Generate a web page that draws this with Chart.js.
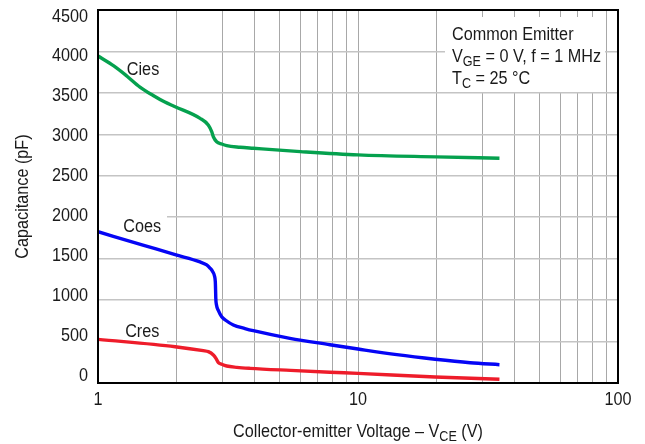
<!DOCTYPE html>
<html>
<head>
<meta charset="utf-8">
<script src="https://cdn.jsdelivr.net/npm/chart.js@4/dist/chart.umd.min.js"></script>
<style>
html,body{margin:0;padding:0;background:#fff;}
#c{display:block;}
</style>
</head>
<body>
<canvas id="c" width="645" height="444"></canvas>
<script>
// ---- data ----
const ciesV = [1, 1.15, 1.29, 1.45, 1.63, 1.8, 1.98, 2.47, 2.655, 2.737, 2.777, 2.86, 2.99, 3.125, 3.52, 3.96, 6, 10, 20, 35];
const ciesC = [3945, 3825, 3704, 3570, 3468, 3392, 3333, 3193, 3113, 3032, 2971, 2911, 2883, 2863, 2844, 2832, 2792, 2752, 2728, 2712];

const coesV = [1, 1.5, 1.98, 2.468, 2.619, 2.696, 2.762, 2.806, 2.826, 2.833, 2.838, 2.856, 2.902, 2.99, 3.107, 3.315, 3.676, 3.957, 5.47, 7.8, 10, 14.1, 19.8, 27, 35];
const coesC = [1825, 1661, 1548, 1461, 1424, 1387, 1343, 1291, 1222, 1122, 1025, 941, 875, 800, 754, 700, 657, 631, 539, 462, 410, 342, 287, 245, 221];

const cresV = [1, 1.98, 2.54, 2.657, 2.778, 2.842, 2.904, 2.99, 3.125, 3.42, 3.84, 5.5, 7.8, 10, 19.8, 35];
const cresC = [527, 438, 390, 378, 338, 298, 245, 226, 205, 189, 177, 152, 130, 116, 73, 45];

const xGridValues = [1,2,3,4,5,6,7,8,9,10,20,30,40,50,60,70,80,90,100];
const xTickLabels = [1, 10, 100];
const yTickValues = [0,500,1000,1500,2000,2500,3000,3500,4000,4500];

const seriesNames = ['Cies', 'Coes', 'Cres'];
const xTitleRuns = [{t:'Collector-emitter Voltage – V'},{t:'CE',sub:true},{t:' (V)'}];
const yTitle = 'Capacitance (pF)';
const noteLines = [
  [{t:'Common Emitter'}],
  [{t:'V'},{t:'GE',sub:true},{t:' = 0 V, f = 1 MHz'}],
  [{t:'T'},{t:'C',sub:true},{t:' = 25 °C'}]
];

// label anchor positions in data units
const seriesLabelPos = [[1.49, 3790], [1.48, 1894], [1.48, 627]];

const FONT = '"Liberation Sans", Arial, sans-serif';
const SX = 0.9; // horizontal condensing of the text face
const TXT = '#1a1a1a';
const toPts = (xs, ys) => xs.map((x,i)=>({x:x, y:ys[i]}));

function ctext(ctx, t, x, y, size, align){
  ctx.save();
  ctx.font = size+'px '+FONT;
  ctx.textBaseline = 'alphabetic';
  ctx.textAlign = 'left';
  const w = ctx.measureText(t).width*SX;
  let x0 = x;
  if(align==='center') x0 = x - w/2;
  else if(align==='right') x0 = x - w;
  ctx.translate(x0, y);
  ctx.scale(SX, 1);
  ctx.fillText(t, 0, 0);
  ctx.restore();
  return w;
}
function runsWidth(ctx, runs, size){
  let w=0;
  for(const r of runs){
    ctx.font = (r.sub? Math.round(size*0.78): size)+'px '+FONT;
    w += ctx.measureText(r.t).width*SX;
  }
  return w;
}
function drawRuns(ctx, runs, x, y, size){
  let cx=x;
  for(const r of runs){
    const s = r.sub? Math.round(size*0.78): size;
    cx += ctext(ctx, r.t, cx, r.sub? y+4 : y, s, 'left');
  }
}

const overlay = {
  id:'overlay',
  beforeDatasetsDraw(chart){
    const ctx=chart.ctx, xs=chart.scales.x, ys=chart.scales.y, ca=chart.chartArea;
    ctx.save();
    ctx.fillStyle='#fff';
    ctx.fillRect(445, 17, 160, 75);
    ctx.fillStyle=TXT;
    noteLines.forEach((ln,i)=>drawRuns(ctx, ln, 452, 40 + i*22, 18));
    seriesNames.forEach((n,i)=>{
      const px=xs.getPixelForValue(seriesLabelPos[i][0]);
      const py=ys.getPixelForValue(seriesLabelPos[i][1]);
      if(i>0){ ctx.fillStyle='#fff'; ctx.fillRect(ca.left+1, py-12, 68, 24); }
      ctx.fillStyle=TXT;
      ctext(ctx, n, px, py+6, 18, 'center');
    });
    ctx.restore();
  },
  afterDraw(chart){
    const ctx=chart.ctx, ca=chart.chartArea, xs=chart.scales.x, ys=chart.scales.y;
    ctx.save();
    ctx.strokeStyle='#000'; ctx.lineWidth=2;
    ctx.strokeRect(ca.left, ca.top, ca.right-ca.left, ca.bottom-ca.top);
    ctx.fillStyle=TXT;
    // y tick labels: the reference spaces them slightly tighter than the grid
    const k = (374.5-15)/(ca.bottom-ca.top);
    yTickValues.forEach(v=>{
      const cy = 15 + (ys.getPixelForValue(v)-ca.top)*k;
      ctext(ctx, String(v), ca.left-10, cy+6.5, 18, 'right');
    });
    xTickLabels.forEach(v=>ctext(ctx, String(v), xs.getPixelForValue(v), ca.bottom+22, 18, 'center'));
    const w = runsWidth(ctx, xTitleRuns, 18);
    drawRuns(ctx, xTitleRuns, (ca.left+ca.right)/2 - w/2, 437, 18);
    ctx.translate(28, (ca.top+ca.bottom)/2);
    ctx.rotate(-Math.PI/2);
    ctext(ctx, yTitle, 0, 0, 18, 'center');
    ctx.restore();
  }
};

const lineDs = (label, pts, color) => ({
  label, data: pts, borderColor: color, backgroundColor: color,
  borderWidth: 3.4, pointRadius: 0, fill: false,
  cubicInterpolationMode: 'monotone', borderCapStyle:'butt', borderJoinStyle:'round'
});

new Chart(document.getElementById('c'), {
  type:'line',
  data:{
    datasets:[
      lineDs(seriesNames[0], toPts(ciesV, ciesC), '#05a14e'),
      lineDs(seriesNames[1], toPts(coesV, coesC), '#0505f5'),
      lineDs(seriesNames[2], toPts(cresV, cresC), '#ee1c2a')
    ]
  },
  options:{
    responsive:false, animation:false, devicePixelRatio:1,
    layout:{padding:{top:10, right:27, left:0, bottom:0}},
    plugins:{legend:{display:false}, tooltip:{enabled:false}},
    scales:{
      x:{
        type:'logarithmic', min:1, max:100,
        afterBuildTicks(s){ s.ticks = xGridValues.map(v=>({value:v})); },
        afterFit(s){ s.height = 61; },
        border:{display:false},
        grid:{color:'#a8a8a8', lineWidth:1, drawTicks:false},
        ticks:{display:false}
      },
      y:{
        min:0, max:4500,
        afterBuildTicks(s){ s.ticks = yTickValues.map(v=>({value:v})); },
        afterFit(s){ s.width = 98; },
        border:{display:false},
        grid:{color:'#c4c4c4', lineWidth:1.5, drawTicks:false},
        ticks:{display:false}
      }
    }
  },
  plugins:[overlay]
});
</script>
</body>
</html>
